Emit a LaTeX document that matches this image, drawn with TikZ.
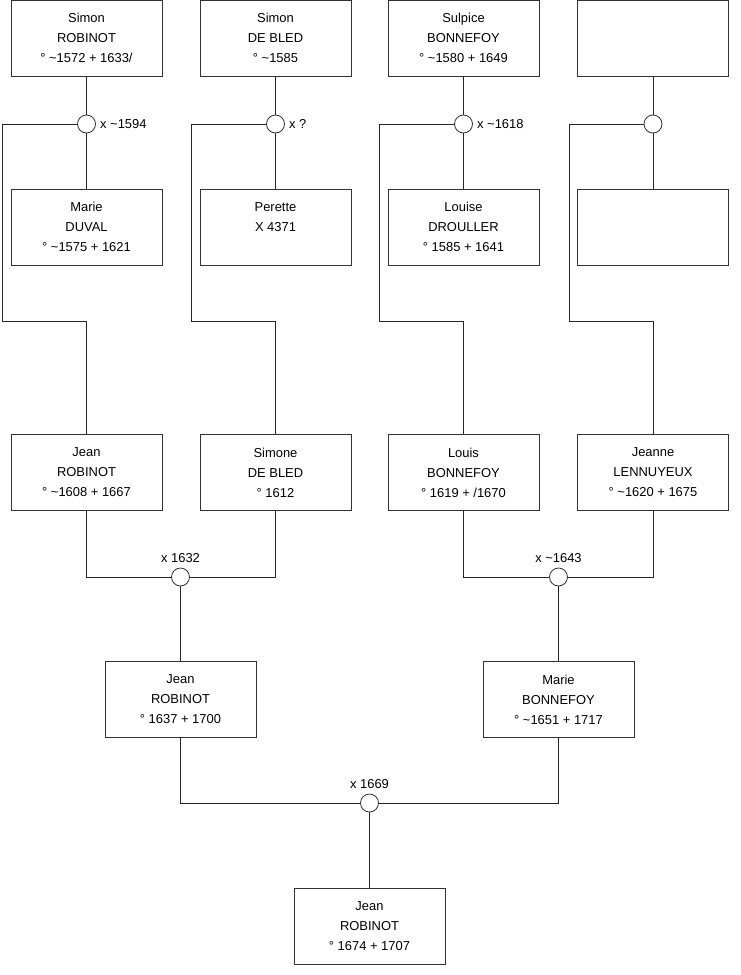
\documentclass[tikz,border=0pt]{standalone}
\usepackage{fontspec}
\setmainfont{Liberation Sans}
\newcommand{\tl}{\textasciitilde}
\begin{document}
\begin{tikzpicture}[x=0.75pt,y=-0.75pt,
  every node/.style={font=\fontsize{9.7}{15}\selectfont},
  person/.style={draw=black!80,rectangle,minimum width=113.25pt,minimum height=57pt,align=center,inner sep=0pt,line width=0.6pt},
  union/.style={draw=black!80,circle,minimum size=13.5pt,inner sep=0pt,fill=white,line width=0.6pt},
  link/.style={draw=black!85,line width=0.6pt},
  tag/.style={inner sep=0pt}]
\useasboundingbox (0,0) rectangle (740,975);
% row 1
\node[person] (a1) at (86.5,38) {Simon\\ROBINOT\\° \tl1572 + 1633/};
\node[person] (a2) at (275.5,38) {Simon\\DE BLED\\° \tl1585};
\node[person] (a3) at (463.5,38) {Sulpice\\BONNEFOY\\° \tl1580 + 1649};
\node[person] (a4) at (653,38) {};
% unions row 1
\node[union] (c1) at (86.5,124) {};
\node[union] (c2) at (275.5,124) {};
\node[union] (c3) at (463.5,124) {};
\node[union] (c4) at (653,124) {};
\node[tag,anchor=west] (t1) at ([xshift=3pt]c1.east) {x \tl1594};
\node[tag,anchor=west] (t2) at ([xshift=3pt]c2.east) {x ?};
\node[tag,anchor=west] (t3) at ([xshift=3pt]c3.east) {x \tl1618};
% row 2
\node[person] (b1) at (86.5,227) {Marie\\DUVAL\\° \tl1575 + 1621};
\node[person] (b2) at (275.5,227) {Perette\\X 4371\\\phantom{° 1575}};
\node[person] (b3) at (463.5,227) {Louise\\DROULLER\\° 1585 + 1641};
\node[person] (b4) at (653,227) {};
% row 3
\node[person] (e1) at (86.5,472.5) {Jean\\ROBINOT\\° \tl1608 + 1667};
\node[person] (e2) at (275.5,472.5) {Simone\\DE BLED\\° 1612};
\node[person] (e3) at (463.5,472.5) {Louis\\BONNEFOY\\° 1619 + /1670};
\node[person] (e4) at (653,472.5) {Jeanne\\LENNUYEUX\\° \tl1620 + 1675};
% bend points
\coordinate (k1) at (2,321);
\coordinate (k2) at (191,321);
\coordinate (k3) at (379,321);
\coordinate (k4) at (569,321);
% row 1-2 links
\foreach \i in {1,2,3,4}{
  \draw[link] (a\i.south) -- (c\i.north);
  \draw[link] (c\i.south) -- (b\i.north);
  \draw[link] (c\i.west) -| (k\i) -| (e\i.north);
}
% unions row 3
\node[union] (m1) at (180.5,577) {};
\node[union] (m2) at (558.5,577) {};
\node[tag,anchor=base] (u1) at ([yshift=3.75pt]m1.north) {x 1632};
\node[tag,anchor=base] (u2) at ([yshift=3.75pt]m2.north) {x \tl1643};
\draw[link] (e1.south) |- (m1.west);
\draw[link] (e2.south) |- (m1.east);
\draw[link] (e3.south) |- (m2.west);
\draw[link] (e4.south) |- (m2.east);
% row 4
\node[person] (f1) at (180.5,699.5) {Jean\\ROBINOT\\° 1637 + 1700};
\node[person] (f2) at (558.5,699.5) {Marie\\BONNEFOY\\° \tl1651 + 1717};
\draw[link] (m1.south) -- (f1.north);
\draw[link] (m2.south) -- (f2.north);
% bottom union
\node[union] (n1) at (369.5,803) {};
\node[tag,anchor=base] (u3) at ([yshift=3.75pt]n1.north) {x 1669};
\draw[link] (f1.south) |- (n1.west);
\draw[link] (f2.south) |- (n1.east);
\node[person] (g1) at (369.5,926) {Jean\\ROBINOT\\° 1674 + 1707};
\draw[link] (n1.south) -- (g1.north);
\end{tikzpicture}
\end{document}
